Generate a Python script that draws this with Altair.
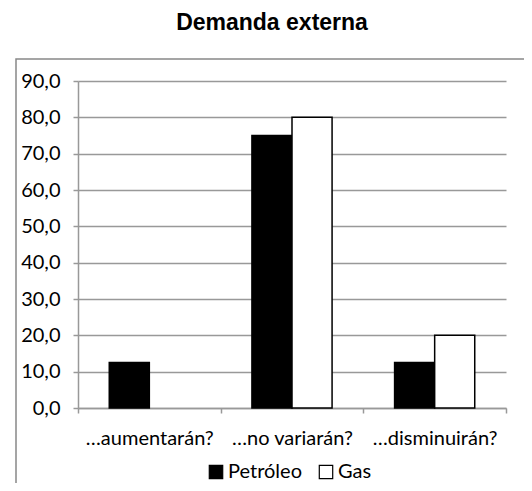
import altair as alt
import pandas as pd

categories = ["…aumentarán?", "…no variarán?", "…disminuirán?"]
series = ["Petróleo", "Gas"]
petroleo = [12.5, 75.0, 12.5]
gas = [0.0, 80.0, 20.0]

rows = []
for i, c in enumerate(categories):
    rows.append({"cat": c, "serie": "Petróleo", "valor": petroleo[i]})
    rows.append({"cat": c, "serie": "Gas", "valor": gas[i]})
df = pd.DataFrame(rows)

FONT = "Lato"
FS = 20
W, H = 428, 327

bars = alt.Chart(df).transform_filter("datum.valor > 0").mark_bar(
    stroke="black", strokeWidth=1.5
).encode(
    x=alt.X("cat:N", sort=categories, title=None,
            scale=alt.Scale(domain=categories, paddingInner=0, paddingOuter=0),
            axis=alt.Axis(labelAngle=0, tickBand="extent", domainColor="#999999",
                          tickColor="#999999", tickSize=5, labelPadding=15,
                          labelFont=FONT, labelFontSize=FS, labelColor="#000000",
                          domainWidth=1.5, tickWidth=1.5)),
    xOffset=alt.XOffset("serie:N", sort=series,
                        scale=alt.Scale(domain=series, paddingOuter=0.78, paddingInner=0)),
    y=alt.Y("valor:Q", title=None,
            scale=alt.Scale(domain=[0, 90], nice=False),
            axis=alt.Axis(values=list(range(0, 91, 10)),
                          labelExpr="replace(format(datum.value, '.1f'), '.', ',')",
                          gridColor="#999999", gridWidth=1.5, domainColor="#999999",
                          domainWidth=1.5, tickColor="#999999", tickSize=5, tickWidth=1.5,
                          labelFont=FONT, labelFontSize=FS, labelColor="#000000",
                          labelPadding=13)),
    fill=alt.Fill("serie:N", sort=series,
                  scale=alt.Scale(domain=series, range=["#000000", "#ffffff"]),
                  legend=alt.Legend(title=None, orient="none", legendX=128, legendY=381,
                                    direction="horizontal", symbolType="square",
                                    symbolSize=180, symbolStrokeColor="black",
                                    symbolStrokeWidth=1.2, labelFont=FONT,
                                    labelFontSize=FS, labelColor="#000000",
                                    columnPadding=14, labelOffset=2, padding=0)),
)

frame = alt.Chart(pd.DataFrame({"a": [0]})).mark_rect(
    fill=None, stroke="#888888", strokeWidth=1.5
).encode(x=alt.value(-62), x2=alt.value(W + 60), y=alt.value(-22), y2=alt.value(H + 120))

chart = alt.layer(frame, bars).properties(
    width=W, height=H,
    autosize=alt.AutoSizeParams(type="none"),
    padding={"left": 70, "top": 73, "right": 18, "bottom": 75},
    title=alt.TitleParams("Demanda externa", font="Liberation Sans", fontSize=23,
                          fontWeight="bold", color="#000000", anchor="middle",
                          offset=23, dx=-20),
).configure_view(stroke=None)

chart.save("out.html", embed_options={"renderer": "svg", "actions": False})
